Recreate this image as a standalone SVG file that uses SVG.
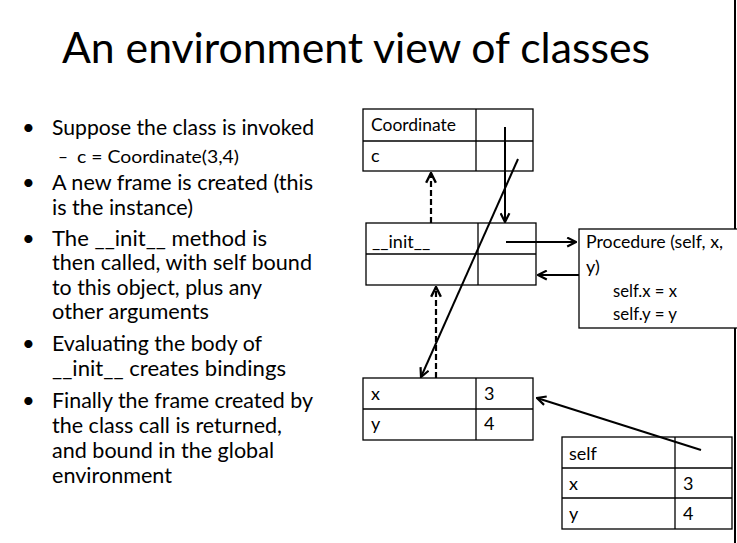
<svg xmlns="http://www.w3.org/2000/svg" width="737" height="543" viewBox="0 0 737 543">
  <style>
    .title { font-family: Lato, "Liberation Sans", sans-serif; font-size: 42px; fill: #000; }
    .bul { font-family: Lato, "Liberation Sans", sans-serif; font-size: 22px; fill: #000; }
    .sub { font-family: Lato, "Liberation Sans", sans-serif; font-size: 17px; fill: #000; }
    .lbl { font-family: Lato, "Liberation Sans", sans-serif; font-size: 18px; fill: #000; }
    .cell { fill: #fff; stroke: #000; stroke-width: 1.3; }
    .div { stroke: #000; stroke-width: 1.3; }
    .link { fill: none; stroke: #000; stroke-width: 2; marker-end: url(#arr); }
    .dash { fill: none; stroke: #000; stroke-width: 2.2; stroke-dasharray: 6 3; marker-end: url(#arr); }
  </style>
  <defs>
    <marker id="arr" viewBox="0 0 10 10" refX="9" refY="5" markerWidth="5.5" markerHeight="5.5" orient="auto" markerUnits="strokeWidth">
      <path d="M1,1 L9,5 L1,9" fill="none" stroke="#000" stroke-width="2" stroke-dasharray="none"/>
    </marker>
  </defs>
  <rect width="737" height="543" fill="#fff"/>
  <line x1="735" y1="0" x2="735" y2="543" stroke="#000" stroke-width="2"/>

  <text class="title" x="62" y="63" textLength="588" lengthAdjust="spacingAndGlyphs">An environment view of classes</text>

  <g id="bullets">
    <text class="bul" x="22" y="135">•</text>
    <text class="bul" x="52" y="135" textLength="262" lengthAdjust="spacingAndGlyphs">Suppose the class is invoked</text>
    <text class="sub" x="58" y="163" textLength="10" lengthAdjust="spacingAndGlyphs">–</text>
    <text class="sub" x="77" y="163" textLength="162" lengthAdjust="spacingAndGlyphs">c = Coordinate(3,4)</text>
    <text class="bul" x="22" y="190">•</text>
    <text class="bul" x="52" y="190" textLength="261" lengthAdjust="spacingAndGlyphs">A new frame is created (this</text>
    <text class="bul" x="52" y="215" textLength="141" lengthAdjust="spacingAndGlyphs">is the instance)</text>
    <text class="bul" x="22" y="246">•</text>
    <text class="bul" x="52" y="246" textLength="215" lengthAdjust="spacingAndGlyphs">The __init__ method is</text>
    <text class="bul" x="52" y="270" textLength="260" lengthAdjust="spacingAndGlyphs">then called, with self bound</text>
    <text class="bul" x="52" y="295" textLength="210" lengthAdjust="spacingAndGlyphs">to this object, plus any</text>
    <text class="bul" x="52" y="319" textLength="157" lengthAdjust="spacingAndGlyphs">other arguments</text>
    <text class="bul" x="22" y="351">•</text>
    <text class="bul" x="52" y="351" textLength="210" lengthAdjust="spacingAndGlyphs">Evaluating the body of</text>
    <text class="bul" x="52" y="376" textLength="234" lengthAdjust="spacingAndGlyphs">__init__ creates bindings</text>
    <text class="bul" x="22" y="408">•</text>
    <text class="bul" x="52" y="408" textLength="261" lengthAdjust="spacingAndGlyphs">Finally the frame created by</text>
    <text class="bul" x="52" y="433" textLength="230" lengthAdjust="spacingAndGlyphs">the class call is returned,</text>
    <text class="bul" x="52" y="458" textLength="222" lengthAdjust="spacingAndGlyphs">and bound in the global</text>
    <text class="bul" x="52" y="483" textLength="120" lengthAdjust="spacingAndGlyphs">environment</text>
  </g>

  <!-- global frame -->
  <g id="global-frame">
    <rect class="cell" x="363" y="109" width="170" height="62"/>
    <line class="div" x1="363" y1="141" x2="533" y2="141"/>
    <line class="div" x1="476" y1="109" x2="476" y2="171"/>
    <text class="lbl" x="371" y="131" textLength="85" lengthAdjust="spacingAndGlyphs">Coordinate</text>
    <text class="lbl" x="371" y="162">c</text>
  </g>

  <!-- instance frame -->
  <g id="init-frame">
    <rect class="cell" x="366" y="223" width="170" height="62"/>
    <line class="div" x1="366" y1="254" x2="536" y2="254"/>
    <line class="div" x1="478" y1="223" x2="478" y2="285"/>
    <text class="lbl" x="372" y="248">__init__</text>
  </g>

  <!-- procedure object -->
  <g id="procedure">
    <rect class="cell" x="579" y="229" width="165" height="99"/>
    <text class="lbl" x="586" y="248" textLength="137" lengthAdjust="spacingAndGlyphs">Procedure (self, x,</text>
    <text class="lbl" x="586" y="273">y)</text>
    <text class="lbl" x="613" y="297" textLength="64" lengthAdjust="spacingAndGlyphs">self.x = x</text>
    <text class="lbl" x="613" y="320" textLength="64" lengthAdjust="spacingAndGlyphs">self.y = y</text>
  </g>

  <!-- bindings frame -->
  <g id="xy-frame">
    <rect class="cell" x="363" y="378" width="170" height="62"/>
    <line class="div" x1="363" y1="409" x2="533" y2="409"/>
    <line class="div" x1="476" y1="378" x2="476" y2="440"/>
    <text class="lbl" x="371" y="400">x</text>
    <text class="lbl" x="484" y="400">3</text>
    <text class="lbl" x="371" y="430">y</text>
    <text class="lbl" x="484" y="430">4</text>
  </g>

  <!-- call frame -->
  <g id="self-frame">
    <rect class="cell" x="562" y="437" width="170" height="92"/>
    <line class="div" x1="562" y1="468" x2="732" y2="468"/>
    <line class="div" x1="562" y1="498" x2="732" y2="498"/>
    <line class="div" x1="675" y1="437" x2="675" y2="529"/>
    <text class="lbl" x="569" y="460">self</text>
    <text class="lbl" x="569" y="490">x</text>
    <text class="lbl" x="683" y="490">3</text>
    <text class="lbl" x="569" y="520">y</text>
    <text class="lbl" x="683" y="520">4</text>
  </g>

  <g id="connectors">
    <path class="link" d="M505,127 L505,222"/>
    <path class="link" d="M518,159 L421,377"/>
    <path class="dash" d="M431,223 L431,173"/>
    <path class="dash" d="M436,378 L436,287"/>
    <path class="link" d="M506,242 L576,242"/>
    <path class="link" d="M579,275 L538,275"/>
    <path class="link" d="M701,450 L537,398"/>
  </g>
</svg>
